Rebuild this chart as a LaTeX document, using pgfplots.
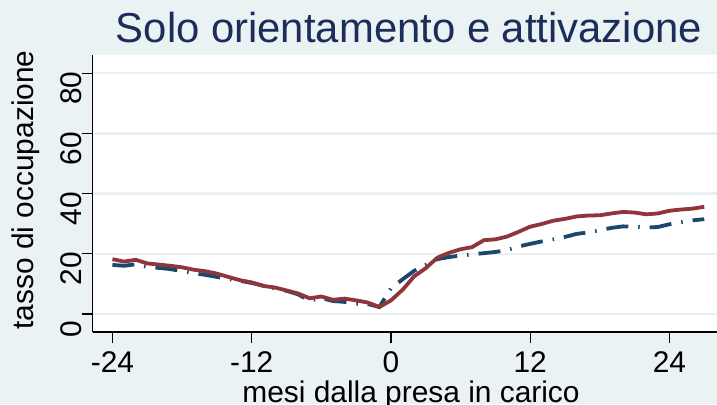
\documentclass[border=0pt]{standalone}
\usepackage{pgfplots}
\pgfplotsset{compat=1.18}
\usepackage{fontspec}
\setmainfont{Liberation Sans}
\definecolor{bg}{RGB}{234,242,243}
\definecolor{gridc}{RGB}{232,240,242}
\definecolor{sred}{RGB}{144,53,59}
\definecolor{snavy}{RGB}{26,71,111}
\definecolor{ttl}{RGB}{28,45,89}
\begin{document}
\begin{tikzpicture}[x=1bp,y=1bp]
\useasboundingbox (0,0) rectangle (717,404);
\fill[bg] (0,0) rectangle (717,404);
\begin{axis}[
  at={(92.7bp,72bp)}, anchor=south west,
  scale only axis, width=624.3bp, height=277bp,
  xmin=-25.7, xmax=28.1, ymin=-6, ymax=86.05,
  axis x line*=bottom, axis y line*=left,
  axis background/.style={fill=white},
  xtick={-24,-12,0,12,24}, ytick={0,20,40,60,80},
  ymajorgrids, major grid style={gridc, line width=2.5bp},
  tick align=outside, major tick length=11bp,
  tick style={black, line width=1.3bp},
  axis line style={black, line width=1.3bp},
  ticklabel style={font=\fontsize{30}{30}\selectfont, inner sep=0pt},
  /pgf/number format/assume math mode=true,
  xticklabel style={anchor=north, yshift=-8bp},
  yticklabel style={rotate=90, anchor=south, xshift=-15bp},
]
\addplot[snavy, line width=3.8bp, dash pattern=on 22bp off 10bp on 1.5bp off 10bp] table {
x y
-24 16.3
-23 16.0
-22 16.5
-21 15.6
-20 15.3
-19 14.9
-18 14.2
-17 13.5
-16 13.0
-15 12.3
-14 11.6
-13 11.0
-12 10.3
-11 9.4
-10 8.5
-9 7.7
-8 6.5
-7 4.4
-6 5.3
-5 4.3
-4 4.0
-3 3.4
-2 3.3
-1 2.3
0 8.5
1 11.5
2 14.3
3 16.3
4 18.2
5 18.9
6 19.4
7 19.8
8 20.2
9 20.6
10 21.2
11 22.4
12 23.3
13 24.1
14 24.8
15 25.6
16 26.6
17 27.1
18 27.8
19 28.6
20 29.1
21 29.0
22 28.7
23 28.9
24 29.8
25 30.5
26 31.1
27 31.5
};
\addplot[sred, line width=3.8bp] table {
x y
-24 18.2
-23 17.4
-22 18.0
-21 16.8
-20 16.4
-19 16.0
-18 15.5
-17 14.7
-16 14.2
-15 13.4
-14 12.3
-13 11.2
-12 10.5
-11 9.3
-10 8.8
-9 7.8
-8 6.8
-7 5.2
-6 5.8
-5 4.7
-4 5.1
-3 4.5
-2 3.8
-1 2.3
0 4.5
1 8.0
2 12.5
3 15.2
4 18.7
5 20.3
6 21.5
7 22.2
8 24.5
9 24.8
10 25.7
11 27.3
12 29.0
13 29.9
14 31.0
15 31.6
16 32.4
17 32.7
18 32.8
19 33.4
20 33.9
21 33.7
22 33.1
23 33.4
24 34.3
25 34.7
26 35.0
27 35.6
};
\end{axis}
\node[anchor=base, inner sep=0pt, font=\fontsize{42}{42}\selectfont, text=ttl] at (409,362) {Solo orientamento e attivazione};
\node[anchor=base, inner sep=0pt, font=\fontsize{30}{30}\selectfont] at (411,2) {mesi dalla presa in carico};
\node[rotate=90, anchor=base, inner sep=0pt, font=\fontsize{30}{30}\selectfont] at (33.6,214) {tasso di occupazione};
\end{tikzpicture}
\end{document}
